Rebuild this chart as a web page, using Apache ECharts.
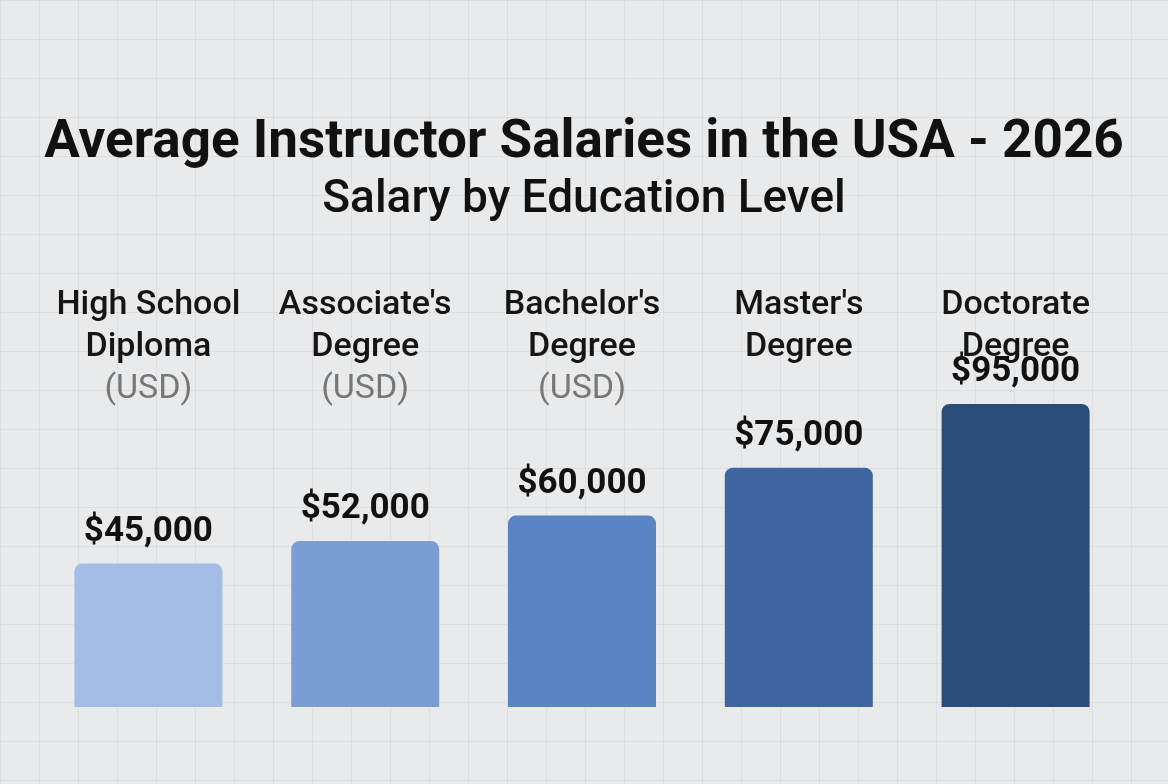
<!DOCTYPE html>
<html><head><meta charset="utf-8">
<script src="https://cdn.jsdelivr.net/npm/echarts@6/dist/echarts.min.js"></script>
<style>
html,body{margin:0;padding:0;background:#e9eaeb;}
#c{width:1168px;height:784px;
background-color:#e9eaeb;
background-image:linear-gradient(rgba(200,203,207,0.35) 1px,transparent 1px),linear-gradient(90deg,rgba(200,203,207,0.35) 1px,transparent 1px);
background-size:39px 39px;}
</style></head><body><div id="c"></div>
<script>
const categories = ["High School\nDiploma", "Associate's\nDegree", "Bachelor's\nDegree", "Master's\nDegree", "Doctorate\nDegree"];
const unitNote = ["(USD)", "(USD)", "(USD)", "", ""];
const salaries = [45000, 52000, 60000, 75000, 95000];
const colors = ["#a3bde6", "#7a9ed3", "#5a85c2", "#3f66a0", "#2b4c78"];

const chart = echarts.init(document.getElementById('c'));
chart.setOption({
  backgroundColor: 'transparent',
  title: [
    {text: 'Average Instructor Salaries in the USA - 2026', left: 'center', top: 112,
     textStyle: {fontFamily: 'Roboto', fontWeight: 'bold', fontSize: 53, color: '#111'}},
    {text: 'Salary by Education Level', left: 'center', top: 172,
     textStyle: {fontFamily: 'Roboto', fontWeight: 500, fontSize: 46, color: '#111'}}
  ],
  grid: {left: 40, right: 44, top: 388, bottom: 77},
  xAxis: {
    type: 'category', position: 'top',
    data: categories,
    axisLine: {show: false}, axisTick: {show: false},
    axisLabel: {
      interval: 0, margin: -22, verticalAlign: 'bottom',
      formatter: (v, i) => '{n|' + v + '}\n{u|' + (unitNote[i] || ' ') + '}',
      rich: {
        n: {fontFamily: 'Roboto', fontWeight: 500, fontSize: 34, color: '#151515', lineHeight: 42, align: 'center'},
        u: {fontFamily: 'Roboto', fontSize: 34, color: '#777', lineHeight: 42, align: 'center'}
      }
    }
  },
  yAxis: {type: 'value', min: 0, max: 100000, show: false, splitLine: {show: false}},
  series: [{
    type: 'bar', barWidth: 148,
    data: salaries.map((v, i) => ({value: v, itemStyle: {color: colors[i]}})),
    itemStyle: {borderRadius: [8, 8, 0, 0]},
    label: {show: true, position: 'top', distance: 14,
      formatter: p => '$' + p.value.toLocaleString('en-US'),
      fontFamily: 'Roboto', fontWeight: 'bold', fontSize: 35, color: '#111'}
  }]
});
</script></body></html>
